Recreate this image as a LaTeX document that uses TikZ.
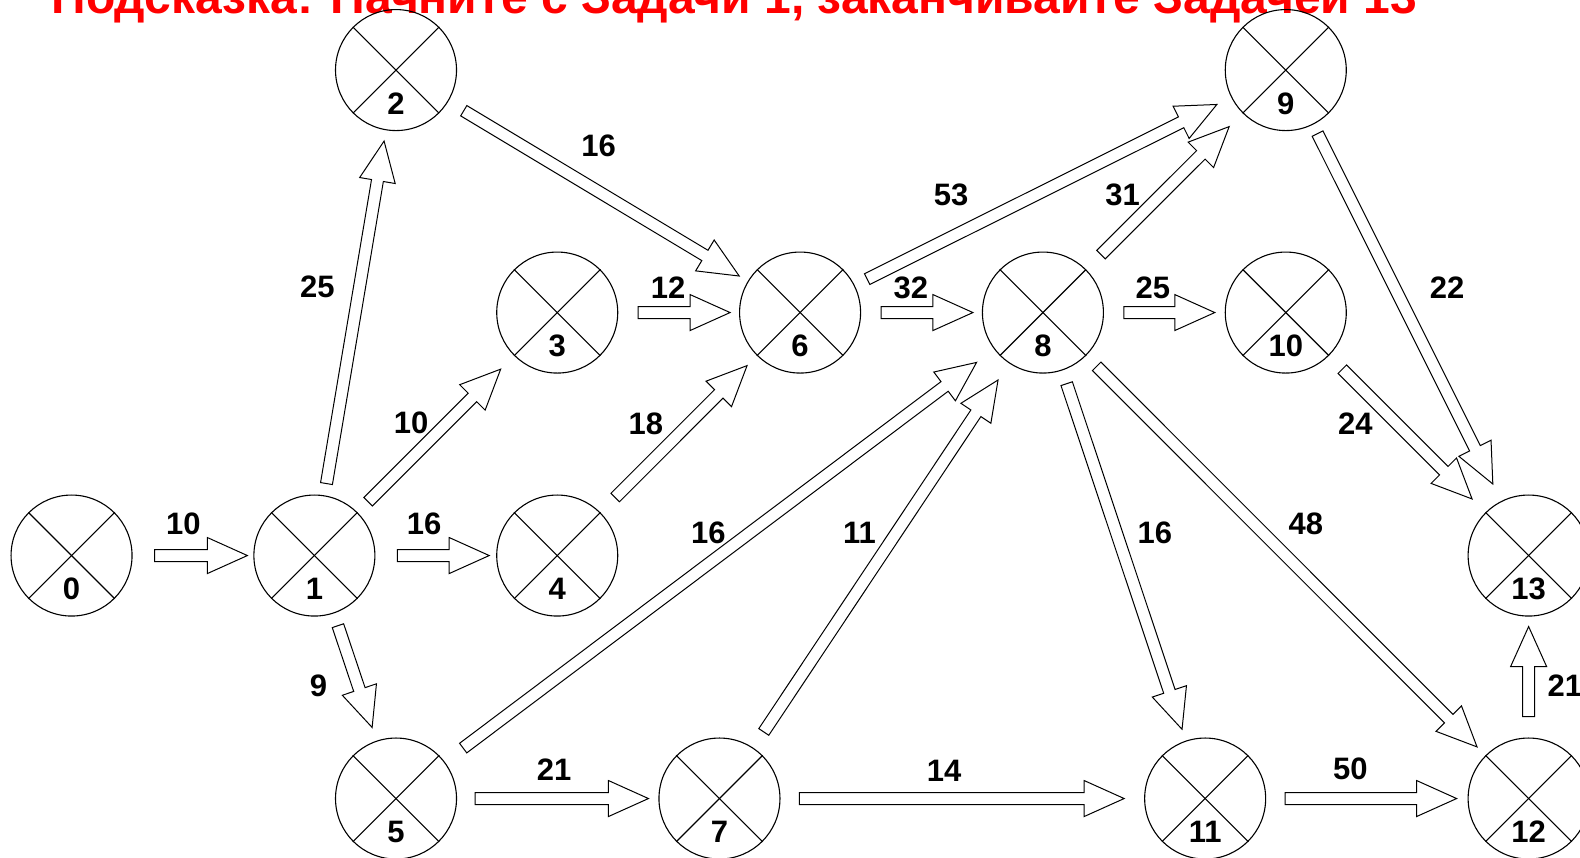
\documentclass[tikz,border=0pt]{standalone}
\usepackage{fontspec}
\setmainfont{Liberation Sans}
\usetikzlibrary{calc}

% hollow block arrow between two events: from, to, gap at start, gap at end
\newcommand{\blockarr}[4]{%
  \coordinate (ba-s) at ($(#1.center)!#3!(#2.center)$);
  \coordinate (ba-t) at ($(#2.center)!#4!(#1.center)$);
  \coordinate (ba-b) at ($(ba-t)!40pt!(ba-s)$);
  \draw[blockarrow]
    ($(ba-s)!6pt!90:(ba-t)$) -- ($(ba-b)!6pt!-90:(ba-s)$) --
    ($(ba-b)!18pt!-90:(ba-s)$) -- (ba-t) --
    ($(ba-b)!18pt!90:(ba-s)$) -- ($(ba-b)!6pt!90:(ba-s)$) --
    ($(ba-s)!6pt!-90:(ba-t)$) -- cycle;
}

\begin{document}
\begin{tikzpicture}[x=1.00765pt,y=-1.00824pt,
  event/.style={circle,draw,line width=1.1pt,minimum size=121pt,inner sep=0pt},
  cross/.style={line width=1.1pt},
  evnum/.style={font=\fontsize{31}{31}\selectfont\bfseries,inner sep=0pt},
  weight/.style={font=\fontsize{31}{31}\selectfont\bfseries,inner sep=0pt},
  blockarrow/.style={draw,line width=1pt,fill=white,line join=miter},
]
\useasboundingbox[fill=white] (0,0) rectangle (1568,850);

% heading
\node[anchor=base west,text=red,inner sep=0pt,
      font=\fontsize{48}{48}\selectfont\bfseries] (title) at (51,13)
  {Подсказка: Начните с Задачи 1, заканчивайте Задачей 13};

% events
\foreach \n/\x/\y in {0/71/551, 1/312/551, 2/393/69.5, 3/553/310, 4/553/551,
    5/393/792, 6/794/310, 7/714/792, 8/1035/310, 9/1276/69.5, 10/1276/310,
    11/1196/792, 12/1517/792, 13/1517/551} {
  \node[event] (e\n) at (\x,\y) {};
  \draw[cross] (e\n.45) -- (e\n.225);
  \draw[cross] (e\n.135) -- (e\n.-45);
  \node[evnum] (e\n-num) at ($(e\n.center)+(0,33)$) {\n};
}

% activities
\blockarr{e0}{e1}{83pt}{67pt}
\blockarr{e1}{e4}{83pt}{68pt}
\blockarr{e1}{e2}{73pt}{72pt}
\blockarr{e1}{e3}{76pt}{80pt}
\blockarr{e1}{e5}{74pt}{75pt}
\blockarr{e2}{e6}{79pt}{71pt}
\blockarr{e3}{e6}{81pt}{70pt}
\blockarr{e4}{e6}{82pt}{75pt}
\blockarr{e5}{e8}{84pt}{83pt}
\blockarr{e5}{e7}{79pt}{71pt}
\blockarr{e6}{e8}{81pt}{70pt}
\blockarr{e6}{e9}{75pt}{77pt}
\blockarr{e7}{e8}{80pt}{81pt}
\blockarr{e7}{e11}{80pt}{81pt}
\blockarr{e8}{e9}{82pt}{80pt}
\blockarr{e8}{e10}{81pt}{71pt}
\blockarr{e8}{e11}{75pt}{73pt}
\blockarr{e8}{e12}{76pt}{73pt}
\blockarr{e9}{e13}{71pt}{80pt}
\blockarr{e10}{e13}{80pt}{80pt}
\blockarr{e11}{e12}{80pt}{72pt}
\blockarr{e12}{e13}{82pt}{71pt}

% durations
\node[weight] (w0-1)   at (182,520)  {10};
\node[weight] (w1-4)   at (421,520)  {16};
\node[weight] (w1-2)   at (315,284)  {25};
\node[weight] (w1-3)   at (408,419)  {10};
\node[weight] (w1-5)   at (316,680)  {9};
\node[weight] (w2-6)   at (594,145)  {16};
\node[weight] (w3-6)   at (663,285)  {12};
\node[weight] (w4-6)   at (641,420)  {18};
\node[weight] (w5-8)   at (703,528)  {16};
\node[weight] (w5-7)   at (550,763)  {21};
\node[weight] (w6-8)   at (904,285)  {32};
\node[weight] (w6-9)   at (944,193)  {53};
\node[weight] (w7-8)   at (853,528)  {11};
\node[weight] (w7-11)  at (937,765)  {14};
\node[weight] (w8-9)   at (1114,193) {31};
\node[weight] (w8-10)  at (1144,285) {25};
\node[weight] (w8-11)  at (1146,528) {16};
\node[weight] (w8-12)  at (1296,520) {48};
\node[weight] (w9-13)  at (1436,285) {22};
\node[weight] (w10-13) at (1345,420) {24};
\node[weight] (w11-12) at (1340,763) {50};
\node[weight] (w12-13) at (1553,680) {21};
\end{tikzpicture}
\end{document}
